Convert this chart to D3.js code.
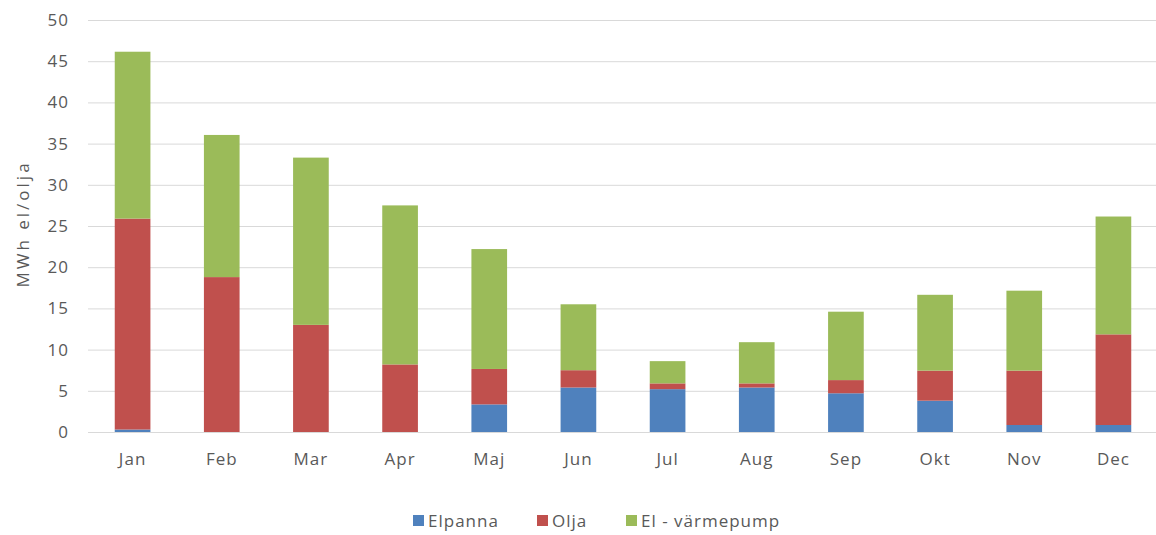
<!DOCTYPE html>
<html><head><meta charset="utf-8">
<script src="https://cdn.jsdelivr.net/npm/d3@7"></script>
<style>body{margin:0;background:#fff;} text{font-family:"Open Sans","Noto Sans",sans-serif;fill:#595959;letter-spacing:1px;}</style>
</head><body>
<svg id="c" width="1156" height="535"></svg>
<script>
const months = ["Jan","Feb","Mar","Apr","Maj","Jun","Jul","Aug","Sep","Okt","Nov","Dec"];
const seriesNames = ["Elpanna","Olja","El - värmepump"];
const elpanna = [0.3, 0, 0, 0, 3.35, 5.4, 5.2, 5.4, 4.7, 3.8, 0.85, 0.85];
const olja = [25.6, 18.8, 13.0, 8.2, 4.3, 2.1, 0.7, 0.5, 1.6, 3.65, 6.6, 11.0];
const varmepump = [20.25, 17.25, 20.3, 19.3, 14.55, 8.0, 2.7, 5.0, 8.3, 9.2, 9.7, 14.3];
const yTicks = [0,5,10,15,20,25,30,35,40,45,50];
const colors = ["#4f81bd","#c0504d","#9bbb59"];

(function(){
const svg = d3.select("#c");
const mL = 88, mR = 1158, mT = 20, mB = 432;
const x = d3.scaleBand().domain(months).range([mL, mR]).paddingInner(0.6).paddingOuter(0.3);
const y = d3.scaleLinear().domain([0,50]).range([mB, mT]);

const rows = months.map((m,i)=>({m, Elpanna:elpanna[i], Olja:olja[i], "El - värmepump":varmepump[i]}));
const stack = d3.stack().keys(seriesNames)(rows);

const ya = svg.append("g").attr("transform",`translate(${mL},0)`)
  .call(d3.axisLeft(y).tickValues(yTicks).tickSize(-(mR-mL)).tickPadding(20));
ya.select(".domain").remove();
ya.selectAll(".tick line").attr("stroke","#d9d9d9").attr("stroke-width",1);
ya.selectAll(".tick text").style("font-size","17px").attr("x",-19);

svg.append("g").selectAll("g").data(stack).join("g").attr("fill",(d,i)=>colors[i])
  .selectAll("rect").data(d=>d).join("rect")
  .attr("x",d=>x(d.data.m)).attr("width",x.bandwidth())
  .attr("y",d=>y(d[1])).attr("height",d=>y(d[0])-y(d[1]));

const xa = svg.append("g").attr("transform",`translate(0,${mB})`).call(d3.axisBottom(x).tickSize(0).tickPadding(21));
xa.select(".domain").attr("stroke","#d9d9d9");
xa.selectAll(".tick text").style("font-size","17px");

svg.append("text").attr("transform","translate(29,224) rotate(-90)").attr("text-anchor","middle")
  .style("font-size","17px").style("letter-spacing","3px").text("MWh el/olja");

const legX = [413, 537, 626];
const leg = svg.append("g");
seriesNames.forEach((n,i)=>{
  leg.append("rect").attr("x",legX[i]).attr("y",515).attr("width",11).attr("height",11).attr("fill",colors[i]);
  leg.append("text").attr("x",legX[i]+15).attr("y",527).style("font-size","17px").text(n);
});
})();
</script>
</body></html>
